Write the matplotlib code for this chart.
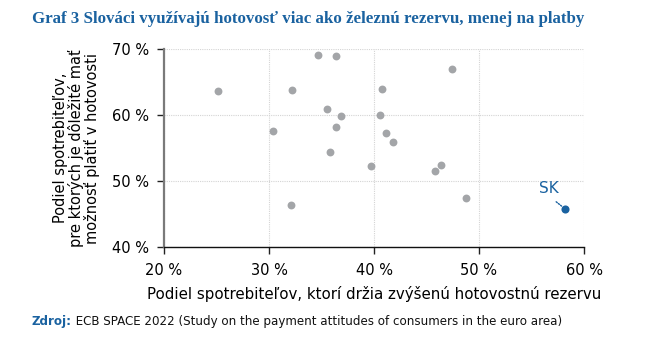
import matplotlib
matplotlib.use("Agg")
import matplotlib.pyplot as plt
from matplotlib.ticker import FuncFormatter

# Data (shares in %)
reserve_share = [25.1, 32.2, 34.7, 36.4, 47.4, 40.8, 35.5, 36.9, 40.6, 30.4,
                 36.4, 41.1, 41.8, 35.8, 39.7, 46.4, 45.8, 48.8, 32.1]
payment_share = [63.6, 63.8, 69.1, 68.9, 66.9, 63.9, 60.9, 59.8, 60.0, 57.5,
                 58.1, 57.3, 55.9, 54.4, 52.3, 52.4, 51.6, 47.5, 46.4]
sk_label = "SK"
sk_reserve = 58.2
sk_payment = 45.8

x_ticks = [20, 30, 40, 50, 60]
y_ticks = [40, 50, 60, 70]

title = "Graf 3 Slováci využívajú hotovosť viac ako železnú rezervu, menej na platby"
xlabel = "Podiel spotrebiteľov, ktorí držia zvýšenú hotovostnú rezervu"
ylabel = "Podiel spotrebiteľov,\npre ktorých je dôležité mať\nmožnosť platiť v hotovosti"
source_bold = "Zdroj:"
source_rest = " ECB SPACE 2022 (Study on the payment attitudes of consumers in the euro area)"

blue = "#1a62a0"
grey = "#a3a5a8"

fig = plt.figure(figsize=(6.67, 3.42), dpi=100)
ax = fig.add_axes([164/667, 1-247.3/342, (584-164)/667, (247.3-48.7)/342])

ax.scatter(reserve_share, payment_share, s=32, color=grey, zorder=3, linewidths=0)
ax.scatter([sk_reserve], [sk_payment], s=34, color=blue, zorder=4, linewidths=0)
ax.annotate(sk_label, xy=(sk_reserve, sk_payment), xytext=(-12, 9),
            textcoords="offset points", color=blue, fontsize=11,
            ha="center", va="bottom",
            arrowprops=dict(arrowstyle="-", color=blue, lw=1, ls=(0, (1, 1)),
                            relpos=(0.55, 0), shrinkA=3, shrinkB=3))

ax.set_xlim(20, 60)
ax.set_ylim(40, 70)
ax.set_xticks(x_ticks)
ax.set_yticks(y_ticks)
ax.xaxis.set_major_formatter(FuncFormatter(lambda v, p: f"{v:.0f} %"))
ax.yaxis.set_major_formatter(FuncFormatter(lambda v, p: f"{v:.0f} %"))
ax.tick_params(axis="both", labelsize=10.5, length=5, width=1, color="#222222",
               direction="out", pad=6)
ax.grid(True, color="#d4d4d4", ls=(0, (1, 1)), lw=0.8)
ax.set_axisbelow(True)
for s in ["top", "right"]:
    ax.spines[s].set_visible(False)
ax.spines["left"].set_color("#7a7a7a")
ax.spines["left"].set_linewidth(1.6)
ax.spines["bottom"].set_color("#111111")
ax.spines["bottom"].set_linewidth(1.0)

ax.set_xlabel(xlabel, fontsize=10.8, labelpad=6)
ax.set_ylabel(ylabel, fontsize=10.5, labelpad=8, linespacing=1.0)

fig.text(32/667, 1-19/342, title, fontsize=12.2, fontweight="bold", color=blue,
         family="Liberation Serif", va="center", ha="left")
t = fig.text(32/667, 1-322/342, source_bold, fontsize=8.6, fontweight="bold",
             color=blue, va="center", ha="left")
fig.canvas.draw()
bb = t.get_window_extent()
fig.text(bb.x1/fig.bbox.width, 1-322/342, source_rest, fontsize=8.6,
         color="#111111", va="center", ha="left")

fig.savefig("out.png", dpi=100)
